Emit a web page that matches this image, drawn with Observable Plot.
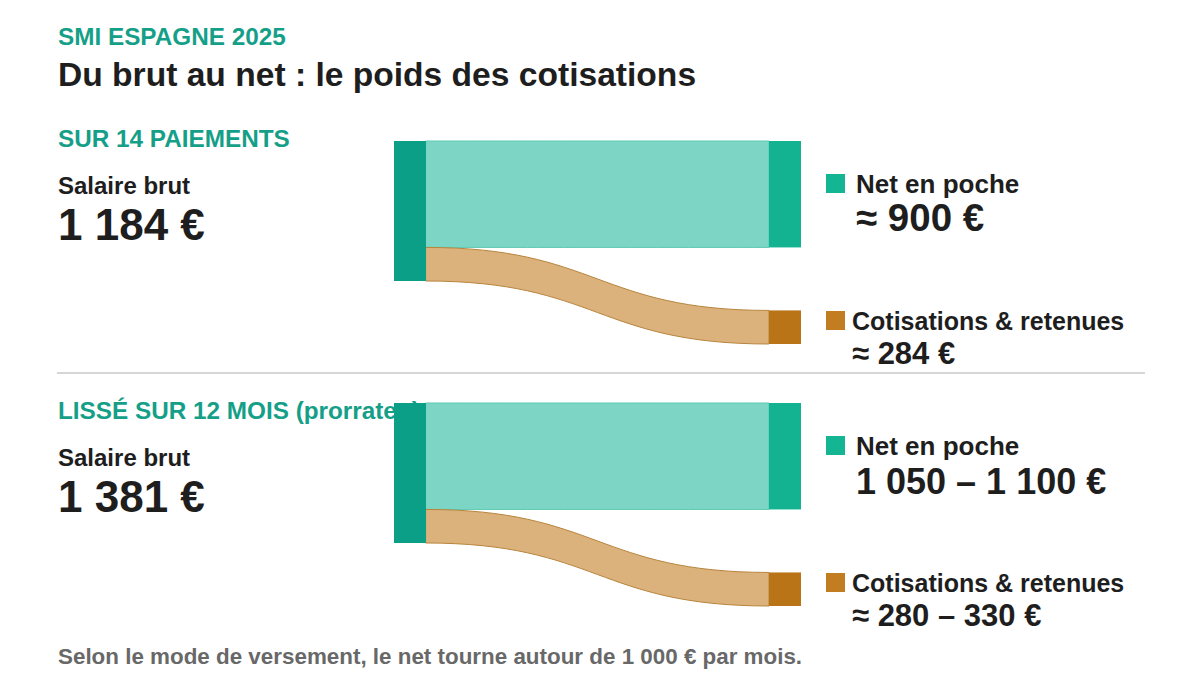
<!DOCTYPE html>
<html lang="fr">
<head>
<meta charset="utf-8">
<script src="https://cdn.jsdelivr.net/npm/d3@7"></script>
<script src="https://cdn.jsdelivr.net/npm/@observablehq/plot@0.6"></script>
<style>
  html, body { margin: 0; padding: 0; background: #fff; }
  #page { position: relative; width: 1200px; height: 675px; overflow: hidden;
          font-family: "Liberation Sans", Arial, Helvetica, sans-serif; font-weight: bold; }
  .t { position: absolute; white-space: nowrap; }
  .sw { position: absolute; }
  .sep { position: absolute; background: #d6d6d6; }
  .panel { position: absolute; }
</style>
</head>
<body>
<div id="page"></div>
<script>
// ---------- data ----------
const kicker = "SMI ESPAGNE 2025";
const title = "Du brut au net : le poids des cotisations";
const footer = "Selon le mode de versement, le net tourne autour de 1 000 € par mois.";
const panelTitles = ["SUR 14 PAIEMENTS", "LISSÉ SUR 12 MOIS (prorrateo)"];
const grossLabel = "Salaire brut";
const grossValues = [1184, 1381];
const netValues = [900, 1050];
const cotisValues = [284, 331];
const flowNames = ["Net en poche", "Cotisations & retenues"];
const netLabels = ["≈ 900 €", "1 050 – 1 100 €"];
const cotisLabels = ["≈ 284 €", "≈ 280 – 330 €"];

// ---------- styles ----------
const TEAL_TXT = "#159f88", DARK = "#1e1e1e", GREY = "#686868";
const C = {
  src: "#0b9f87", netNode: "#13b391", netFlow: "#7dd6c5", netStroke: "#5dc9b3",
  cotNode: "#b97417", cotFlow: "#dbb27c", cotStroke: "#b8843c",
  netSw: "#14b592", cotSw: "#c17d1f"
};
const NET_LABEL_SIZE = [38.5, 36];
const NODE_W = 32, FLOW_W = 343, NODE_H = 140, NODE_PAD = 63;
const fmt = d3.formatLocale({decimal: ",", thousands: " ", grouping: [3], currency: ["", " €"]}).format("$,d");

const page = document.getElementById("page");
function txt(s, x, baseline, size, color) {
  const d = document.createElement("div");
  d.className = "t";
  d.textContent = s;
  d.style.left = x + "px";
  d.style.top = (baseline - 0.8465 * size) + "px";
  d.style.fontSize = size + "px";
  d.style.lineHeight = size + "px";
  d.style.color = color;
  page.appendChild(d);
}
function swatch(x, y, s, color) {
  const d = document.createElement("div");
  d.className = "sw";
  Object.assign(d.style, {left: x + "px", top: y + "px", width: s + "px", height: s + "px", background: color});
  page.appendChild(d);
}

txt(kicker, 58, 46, 24.3, TEAL_TXT);
txt(title, 58, 86, 33.6, DARK);

function panel(i, leftOff, rightOff) {
  const gross = grossValues[i], net = netValues[i], cot = cotisValues[i];
  txt(panelTitles[i], 58, 148 + leftOff, 24.3, TEAL_TXT);
  txt(grossLabel, 58, 194 + leftOff, 24, DARK);
  txt(fmt(gross), 58, 240 + leftOff, 44, DARK);

  // legend on the right
  swatch(826, 174 + rightOff, 19, C.netSw);
  txt(flowNames[0], 856, 193 + rightOff, 26, DARK);
  txt(netLabels[i], 856, 232 + rightOff, NET_LABEL_SIZE[i], DARK);
  swatch(826, 311 + rightOff, 19, C.cotSw);
  txt(flowNames[1], 852, 330 + rightOff, 25, DARK);
  txt(cotisLabels[i], 852, 364 + rightOff, 31, DARK);

  // sankey layout (euros -> px through the y scale)
  const pxPerEuro = NODE_H / gross;
  const padE = NODE_PAD / pxPerEuro;
  const nw = NODE_W / FLOW_W;
  const nodes = [
    {key: "src", x1: -nw, x2: 0, y1: 0, y2: gross},
    {key: "netNode", x1: 1, x2: 1 + nw, y1: 0, y2: net},
    {key: "cotNode", x1: 1, x2: 1 + nw, y1: net + padE, y2: net + padE + cot}
  ];
  const links = [
    {id: "net", fill: C.netFlow, stroke: C.netStroke, s0: 0, t0: 0, v: net},
    {id: "cot", fill: C.cotFlow, stroke: C.cotStroke, s0: net, t0: net + padE, v: cot}
  ];
  const pts = links.flatMap(l => [
    {id: l.id, fill: l.fill, stroke: l.stroke, x: 0, y1: l.s0, y2: l.s0 + l.v},
    {id: l.id, fill: l.fill, stroke: l.stroke, x: 1, y1: l.t0, y2: l.t0 + l.v}
  ]);
  const H = NODE_H + NODE_PAD;
  const chart = Plot.plot({
    width: FLOW_W + 2 * NODE_W, height: H,
    marginTop: 0, marginBottom: 0, marginLeft: NODE_W, marginRight: NODE_W,
    x: {domain: [0, 1], axis: null},
    y: {domain: [0, gross + padE], range: [0, H], axis: null},
    color: {type: "identity"},
    style: {background: "transparent", overflow: "visible"},
    marks: [
      Plot.areaY(pts, {x: "x", y1: "y1", y2: "y2", z: "id", fill: "fill", stroke: "stroke", strokeWidth: 1, curve: "bump-x"}),
      Plot.rect(nodes, {x1: "x1", x2: "x2", y1: "y1", y2: "y2", fill: d => C[d.key]})
    ]
  });
  const wrap = document.createElement("div");
  wrap.className = "panel";
  wrap.style.left = "394px";
  wrap.style.top = (141 + rightOff) + "px";
  wrap.appendChild(chart);
  page.appendChild(wrap);
}

panel(0, 0, 0);
// separator
const sep = document.createElement("div");
sep.className = "sep";
Object.assign(sep.style, {left: "57px", top: "372px", width: "1088px", height: "2px"});
page.appendChild(sep);
panel(1, 272, 262);

txt(footer, 58, 665, 22.4, GREY);
</script>
</body>
</html>
